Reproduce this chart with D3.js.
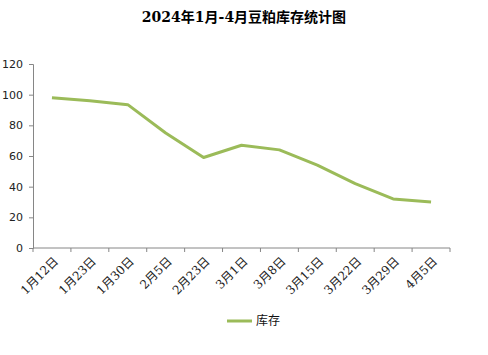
<!DOCTYPE html>
<meta charset="utf-8">
<title>豆粕库存</title>
<style>
  body { margin: 0; background: #fff; }
  svg text { font-family: "Noto Sans CJK SC", "DejaVu Sans", sans-serif; }
</style>
<body>
<script src="https://cdn.jsdelivr.net/npm/d3@7"></script>
<script>
// data
const dates = ["1月12日","1月23日","1月30日","2月5日","2月23日","3月1日","3月8日","3月15日","3月22日","3月29日","4月5日"];
const stock = [98, 96, 93.5, 75, 59, 67, 64, 54, 42, 32, 30];
const yTicks = [0, 20, 40, 60, 80, 100, 120];

const W = 488, H = 355;
const m = {left: 33, right: 38, top: 64, bottom: 107};

const svg = d3.select("body").append("svg")
    .attr("width", W).attr("height", H);

svg.append("text")
    .attr("x", 244).attr("y", 22)
    .attr("text-anchor", "middle")
    .style("font-size", "14px").style("font-weight", "bold")
    .style("font-family", "'DejaVu Serif', 'Noto Sans CJK SC', serif")
    .text("2024年1月-4月豆粕库存统计图");

const x = d3.scaleBand().domain(dates).range([m.left, W - m.right]);
const y = d3.scaleLinear().domain([0, 120]).range([H - m.bottom, m.top]);

// y axis
const ya = svg.append("g").attr("transform", `translate(${m.left},0)`)
    .call(d3.axisLeft(y).tickValues(yTicks).tickSize(4).tickPadding(6));
ya.select(".domain").attr("stroke", "#868686");
ya.selectAll(".tick line").attr("stroke", "#868686");
ya.selectAll(".tick text").style("font-size", "11px").attr("fill", "#222")
    .style("font-family", "'DejaVu Sans', sans-serif");

// x axis, ticks on band edges
const xa = svg.append("g").attr("transform", `translate(0,${H - m.bottom})`);
xa.append("line").attr("x1", m.left).attr("x2", W - m.right).attr("stroke", "#868686");
const edges = dates.map(d => x(d)).concat([W - m.right]);
xa.selectAll("line.tk").data(edges).join("line").attr("class", "tk")
    .attr("x1", d => d).attr("x2", d => d).attr("y1", 0).attr("y2", 4)
    .attr("stroke", "#868686");
xa.selectAll("text").data(dates).join("text")
    .attr("transform", d => `translate(${x(d) + x.bandwidth() / 2 + 4},11) rotate(-45)`)
    .attr("text-anchor", "end")
    .attr("dy", "0.35em")
    .style("font-size", "12px").attr("fill", "#222")
    .style("font-family", "'DejaVu Serif', 'Noto Sans CJK SC', serif")
    .text(d => d);

// line
const line = d3.line()
    .x((d, i) => x(dates[i]) + x.bandwidth() / 2)
    .y(d => y(d));
svg.append("path").datum(stock)
    .attr("d", line)
    .attr("fill", "none")
    .attr("stroke", "#9bbb59")
    .attr("stroke-width", 3)
    .attr("stroke-linejoin", "round");

// legend
svg.append("line").attr("x1", 227).attr("x2", 252).attr("y1", 321).attr("y2", 321)
    .attr("stroke", "#9bbb59").attr("stroke-width", 3);
svg.append("text").attr("x", 256).attr("y", 325)
    .style("font-size", "12px").attr("fill", "#111")
    .text("库存");
</script>
</body>
